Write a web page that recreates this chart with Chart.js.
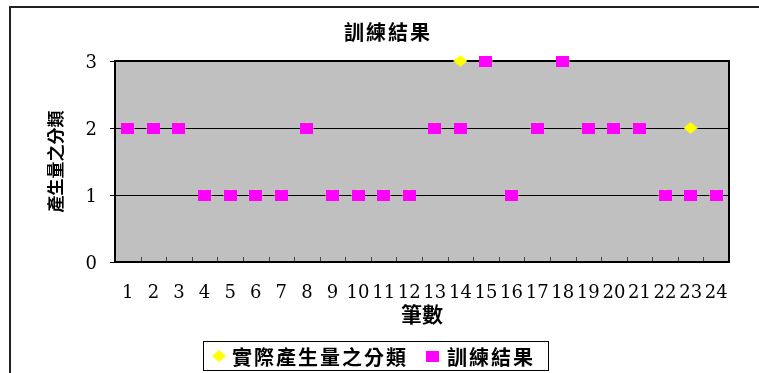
<!DOCTYPE html>
<html>
<head>
<meta charset="utf-8">
<script src="https://cdn.jsdelivr.net/npm/chart.js@4/dist/chart.umd.min.js"></script>
<style>
  html, body { margin: 0; padding: 0; background: #fff; overflow: hidden; }
  #wrap { width: 759px; height: 373px; position: relative; }
</style>
</head>
<body>
<div id="wrap"><canvas id="c" width="759" height="373"></canvas></div>
<script>
// ---- chart data ----
const chartTitle = '訓練結果';
const xAxisTitle = '筆數';
const yAxisTitle = '產生量之分類';
const categories = ['1','2','3','4','5','6','7','8','9','10','11','12',
                    '13','14','15','16','17','18','19','20','21','22','23','24'];
const actualLabel = '實際產生量之分類';
const actualClass = [2,2,2,1,1,1,1,2,1,1,1,1,2,3,3,1,2,3,2,2,2,1,2,1];
const trainingLabel = '訓練結果';
const trainingResult = [2,2,2,1,1,1,1,2,1,1,1,1,2,2,3,1,2,3,2,2,2,1,1,1];
const yMin = 0, yMax = 3, yStep = 1;

// ---- marker glyphs ----
const CJK = '"Noto Sans CJK TC", "Noto Sans CJK SC", sans-serif';
const NUM = '"DejaVu Serif", serif';

function squareMarker() {
  const c = document.createElement('canvas');
  c.width = 13; c.height = 11;
  const g = c.getContext('2d');
  g.fillStyle = '#FF00FF';
  g.fillRect(0, 0, 13, 11);
  return c;
}
function diamondMarker() {
  const c = document.createElement('canvas');
  c.width = 14; c.height = 12;
  const g = c.getContext('2d');
  g.fillStyle = '#FFFF00';
  g.beginPath();
  g.moveTo(7, 0); g.lineTo(14, 6); g.lineTo(7, 12); g.lineTo(0, 6);
  g.closePath(); g.fill();
  return c;
}
const squareImg = squareMarker();
const diamondImg = diamondMarker();

// ---- decorations: frame, plot fill, title, legend ----
const decor = {
  id: 'decor',
  beforeDraw(chart) {
    const { ctx, chartArea: a } = chart;
    ctx.save();
    ctx.fillStyle = '#fff';
    ctx.fillRect(0, 0, chart.width, chart.height);
    ctx.fillStyle = '#C0C0C0';
    ctx.fillRect(a.left, a.top, a.right - a.left, a.bottom - a.top);
    // outer frame
    ctx.strokeStyle = '#222';
    ctx.lineWidth = 2;
    ctx.beginPath();
    ctx.moveTo(10, chart.height);
    ctx.lineTo(10, 7);
    ctx.lineTo(chart.width, 7);
    ctx.stroke();
    // title
    ctx.fillStyle = '#000';
    ctx.font = 'bold 20px ' + CJK;
    ctx.letterSpacing = '2px';
    ctx.textAlign = 'left';
    ctx.textBaseline = 'middle';
    ctx.fillText(chartTitle, 344, 32);
    ctx.restore();
  },
  beforeDatasetsDraw(chart) {
    const { ctx, chartArea: a } = chart;
    const xs = chart.scales.x;
    ctx.save();
    // small inside tick marks between categories
    ctx.strokeStyle = '#444';
    ctx.lineWidth = 1;
    ctx.beginPath();
    for (let i = 1; i < categories.length; i++) {
      const px = Math.round((xs.getPixelForTick(i - 1) + xs.getPixelForTick(i)) / 2) + 0.5;
      ctx.moveTo(px, a.bottom);
      ctx.lineTo(px, a.bottom - 5);
    }
    ctx.stroke();
    // plot border
    ctx.strokeStyle = '#000';
    ctx.lineWidth = 2;
    ctx.strokeRect(a.left, a.top, a.right - a.left, a.bottom - a.top);
    ctx.restore();
  },
  afterDraw(chart) {
    const ctx = chart.ctx;
    const ds = chart.data.datasets;
    ctx.save();
    ctx.strokeStyle = '#000';
    ctx.lineWidth = 1;
    ctx.strokeRect(203.5, 341.5, 345, 29);
    ctx.fillStyle = '#000';
    ctx.font = 'bold 20px ' + CJK;
    ctx.letterSpacing = '2px';
    ctx.textAlign = 'left';
    ctx.textBaseline = 'middle';
    ctx.drawImage(ds[0].pointStyle, 219 - 7, 356 - 6);
    ctx.fillText(ds[0].label, 232, 357);
    ctx.drawImage(ds[1].pointStyle, 432 - 6, 356 - 5);
    ctx.fillText(ds[1].label, 447, 357);
    ctx.restore();
  }
};

new Chart(document.getElementById('c'), {
  type: 'line',
  data: {
    labels: categories,
    datasets: [
      {
        label: actualLabel,
        data: actualClass,
        showLine: false,
        pointStyle: diamondImg,
        pointRadius: 7,
        order: 2,
        clip: false
      },
      {
        label: trainingLabel,
        data: trainingResult,
        showLine: false,
        pointStyle: squareImg,
        pointRadius: 7,
        order: 1,
        clip: false
      }
    ]
  },
  options: {
    responsive: false,
    animation: false,
    devicePixelRatio: 1,
    layout: { padding: { left: 0, right: 30, top: 61, bottom: 41 } },
    plugins: {
      legend: { display: false },
      title: { display: false },
      tooltip: { enabled: false }
    },
    scales: {
      x: {
        type: 'category',
        offset: true,
        grid: { display: false, drawTicks: false },
        border: { display: false },
        ticks: {
          color: '#000',
          font: { family: NUM, size: 18 },
          padding: 21,
          maxRotation: 0,
          autoSkip: false
        },
        title: {
          display: true,
          text: xAxisTitle,
          color: '#000',
          font: { family: CJK, size: 21, weight: 'bold' },
          padding: { top: 0, bottom: 5 }
        },
        afterFit(s) { s.height = 70; }
      },
      y: {
        min: yMin,
        max: yMax,
        ticks: {
          stepSize: yStep,
          color: '#000',
          font: { family: NUM, size: 18 },
          padding: 13,
          labelOffset: 2
        },
        grid: { color: '#000', lineWidth: 1, tickLength: 5, drawTicks: true },
        border: { display: false },
        title: {
          display: true,
          text: yAxisTitle,
          color: '#000',
          font: { family: CJK, size: 17, weight: 'bold' },
          padding: { top: 45, bottom: 0 }
        },
        afterFit(s) { s.width = 115; }
      }
    }
  },
  plugins: [decor]
});
</script>
</body>
</html>
